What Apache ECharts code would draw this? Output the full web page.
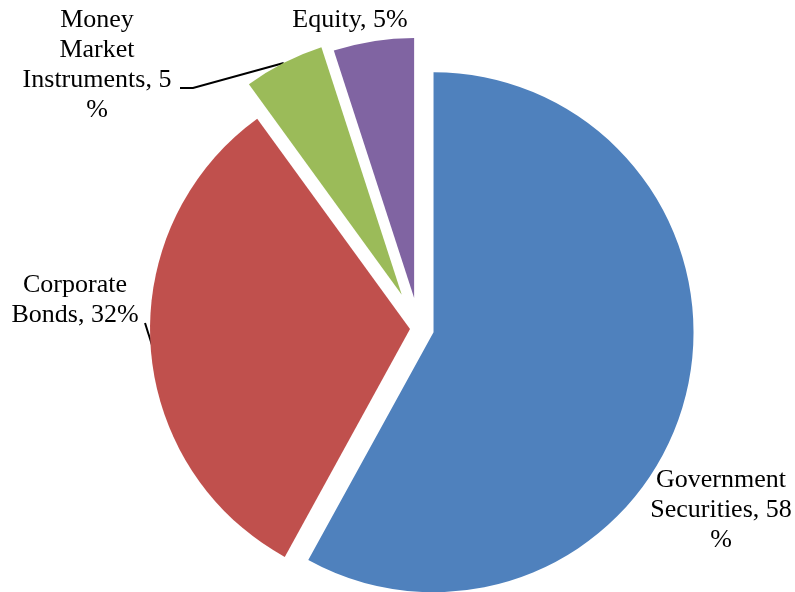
<!DOCTYPE html>
<html><head><meta charset="utf-8">
<script src="https://cdn.jsdelivr.net/npm/echarts@6/dist/echarts.min.js"></script>
<style>html,body{margin:0;padding:0;background:#fff}#c{width:795px;height:592px}</style>
</head><body><div id="c"></div>
<script>
const categories = ['Government Securities', 'Corporate Bonds', 'Money Market Instruments', 'Equity'];
const shares = [58, 32, 5, 5];
const colors = ['#4F81BD', '#C0504D', '#9BBB59', '#8064A2'];
// label wrapping as in the original ({v} = value)
const labelTemplates = ['Government\nSecurities, {v}\n%', 'Corporate\nBonds, {v}%', 'Money\nMarket\nInstruments, {v}\n%', 'Equity, {v}%'];

const chart = echarts.init(document.getElementById('c'), null, {renderer: 'canvas'});
const CX = 419, CY = 328.5, R = 260;
const explode = [15, 9, 38, 31];
const labelSpots = [
  {x: 721, y: 510},
  {x: 75, y: 300, line: [[152, 345], [145, 323]]},
  {x: 97, y: 65, tail: [[193, 88], [180, 88]]},
  {x: 350, y: 20}
];
const total = shares.reduce((a, b) => a + b, 0);
let cum = 0;
const series = shares.map((v, i) => {
  const mid = (cum + v / 2) / total * 2 * Math.PI; cum += v;
  const cx = CX + explode[i] * Math.sin(mid), cy = CY - explode[i] * Math.cos(mid);
  return {
    type: 'pie', center: [cx, cy], radius: R, startAngle: 90, clockwise: true,
    avoidLabelOverlap: false, silent: true, animation: false,
    emphasis: {disabled: true},
    data: categories.map((name, j) => ({
      name, value: shares[j],
      itemStyle: {color: j === i ? colors[j] : 'rgba(0,0,0,0)', borderWidth: 0},
      label: {show: j === i},
      labelLine: {show: j === i && (j === 1 || j === 2)}
    })),
    label: {
      position: 'outside',
      formatter: p => labelTemplates[p.dataIndex].replace('{v}', p.value),
      fontFamily: '"Liberation Serif", "Times New Roman", serif',
      fontSize: 26, lineHeight: 30, color: '#000', align: 'center'
    },
    labelLine: {lineStyle: {color: '#000', width: 2}, length: 10, length2: 10, smooth: false},
    labelLayout: params => {
      if (params.dataIndex !== i) return {};
      const s = labelSpots[i];
      const out = {x: s.x, y: s.y, align: 'center', verticalAlign: 'middle'};
      if (s.line) out.labelLinePoints = s.line;
      if (s.tail && params.labelLinePoints) out.labelLinePoints = [params.labelLinePoints[0]].concat(s.tail);
      return out;
    }
  };
});
chart.setOption({backgroundColor: '#fff', animation: false, series});
</script>
</body></html>
